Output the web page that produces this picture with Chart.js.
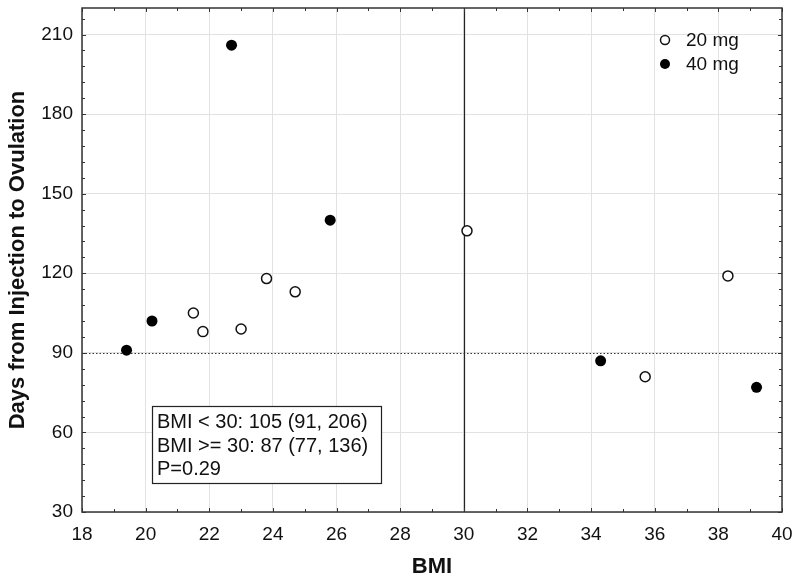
<!DOCTYPE html>
<html>
<head>
<meta charset="utf-8">
<script src="https://cdn.jsdelivr.net/npm/chart.js@4.4.0/dist/chart.umd.min.js"></script>
<style>
  html, body { margin: 0; padding: 0; background: #fff; }
  #wrap { width: 800px; height: 583px; }
</style>
</head>
<body>
<div id="wrap"><canvas id="grafico"></canvas></div>
<script>
// Datos
const bmi20 = [21.5, 21.8, 23.0, 23.8, 24.7, 30.1, 35.7, 38.3];
const dias20 = [105, 98, 99, 118, 113, 136, 81, 119];
const bmi40 = [19.4, 20.2, 22.7, 25.8, 34.3, 39.2];
const dias40 = [91, 102, 206, 140, 87, 77];

const xTicks = [18, 20, 22, 24, 26, 28, 30, 32, 34, 36, 38, 40];
const yTicks = [30, 60, 90, 120, 150, 180, 210];
const xMinor = [19, 21, 23, 25, 27, 29, 31, 33, 35, 37, 39];
const yMinorStep = 6;

const lineaDias = 90;   // linea punteada
const corteBmi = 30;    // linea vertical
const resumen = ['BMI < 30: 105 (91, 206)', 'BMI >= 30: 87 (77, 136)', 'P=0.29'];

const FUENTE = "'Liberation Sans', Arial, sans-serif";

function puntos(xs, ys) {
  return xs.map((x, i) => ({ x: x, y: ys[i] }));
}

// Lineas de referencia, marco y marcas menores
const marcoPlugin = {
  id: 'marco',
  beforeDatasetsDraw(chart) {
    const { ctx, chartArea: a, scales: { x, y } } = chart;
    ctx.save();
    // linea punteada en 90 dias
    ctx.strokeStyle = '#333';
    ctx.lineWidth = 1;
    ctx.setLineDash([1.5, 2]);
    const yp = Math.round(y.getPixelForValue(lineaDias)) + 0.5;
    ctx.beginPath();
    ctx.moveTo(a.left, yp);
    ctx.lineTo(a.right, yp);
    ctx.stroke();
    // linea vertical en BMI 30
    ctx.setLineDash([]);
    ctx.strokeStyle = '#222';
    ctx.lineWidth = 1.2;
    const xp = Math.round(x.getPixelForValue(corteBmi)) + 0.5;
    ctx.beginPath();
    ctx.moveTo(xp, a.top);
    ctx.lineTo(xp, a.bottom);
    ctx.stroke();

    // marcas hacia adentro en los cuatro lados
    ctx.strokeStyle = '#333';
    ctx.lineWidth = 1;
    const marcaX = (v, len) => {
      const p = Math.round(x.getPixelForValue(v)) + 0.5;
      ctx.beginPath();
      ctx.moveTo(p, a.bottom); ctx.lineTo(p, a.bottom - len);
      ctx.moveTo(p, a.top); ctx.lineTo(p, a.top + len);
      ctx.stroke();
    };
    const marcaY = (v, len) => {
      const p = Math.round(y.getPixelForValue(v)) + 0.5;
      ctx.beginPath();
      ctx.moveTo(a.left, p); ctx.lineTo(a.left + len, p);
      ctx.moveTo(a.right, p); ctx.lineTo(a.right - len, p);
      ctx.stroke();
    };
    xTicks.forEach(v => marcaX(v, 4));
    xMinor.forEach(v => marcaX(v, 3));
    for (let v = y.min; v <= y.max; v += yMinorStep) {
      marcaY(v, yTicks.includes(v) ? 4 : 3);
    }

    // marco
    ctx.strokeStyle = '#333';
    ctx.lineWidth = 1.5;
    ctx.strokeRect(a.left, a.top, a.right - a.left, a.bottom - a.top);
    ctx.restore();
  },
  afterDatasetsDraw(chart) {
    const { ctx, chartArea: a } = chart;
    ctx.save();
    // leyenda
    ctx.font = '19px ' + FUENTE;
    ctx.textBaseline = 'middle';
    ctx.fillStyle = '#111';
    chart.data.datasets.forEach((ds, i) => {
      const cy = a.top + 32 + i * 24;
      const cx = a.right - 117;
      ctx.beginPath();
      ctx.arc(cx, cy, i === 0 ? 4.5 : 5, 0, Math.PI * 2);
      if (i === 0) {
        ctx.fillStyle = '#fff';
        ctx.fill();
        ctx.strokeStyle = '#111';
        ctx.lineWidth = 1.5;
        ctx.stroke();
      } else {
        ctx.fillStyle = '#000';
        ctx.fill();
      }
      ctx.fillStyle = '#111';
      ctx.fillText(ds.label, cx + 21, cy + 1);
    });

    // caja con resumen
    ctx.font = '20px ' + FUENTE;
    ctx.textBaseline = 'alphabetic';
    const bx = 152, by = 406, bw = 229, bh = 77;
    ctx.fillStyle = '#fff';
    ctx.fillRect(bx, by, bw, bh);
    ctx.strokeStyle = '#222';
    ctx.lineWidth = 1.2;
    ctx.strokeRect(bx + 0.5, by + 0.5, bw, bh);
    ctx.fillStyle = '#111';
    resumen.forEach((t, i) => {
      ctx.fillText(t, bx + 5, by + 22 + i * 23.5);
    });
    ctx.restore();
  }
};

const ctx = document.getElementById('grafico').getContext('2d');
new Chart(ctx, {
  type: 'scatter',
  data: {
    datasets: [
      {
        label: '20 mg',
        data: puntos(bmi20, dias20),
        pointStyle: 'circle',
        pointRadius: 5,
        backgroundColor: '#fff',
        borderColor: '#111',
        borderWidth: 1.5
      },
      {
        label: '40 mg',
        data: puntos(bmi40, dias40),
        pointStyle: 'circle',
        pointRadius: 5.5,
        backgroundColor: '#000',
        borderColor: '#000',
        borderWidth: 0
      }
    ]
  },
  options: {
    responsive: true,
    maintainAspectRatio: false,
    animation: false,
    layout: { padding: { top: 8, right: 18, left: 0, bottom: 0 } },
    plugins: {
      legend: { display: false },
      tooltip: { enabled: false }
    },
    scales: {
      x: {
        type: 'linear',
        min: 18,
        max: 40,
        afterBuildTicks: s => { s.ticks = xTicks.map(v => ({ value: v })); },
        afterFit: s => { s.height = 71; s.paddingLeft = 0; s.paddingRight = 0; },
        grid: { color: '#e2e2e2', lineWidth: 1, drawTicks: false },
        border: { display: false },
        ticks: {
          padding: 11,
          maxRotation: 0,
          color: '#111',
          font: { family: FUENTE, size: 19 }
        },
        title: {
          display: true,
          text: 'BMI',
          color: '#111',
          font: { family: FUENTE, size: 22, weight: 'bold' },
          padding: { top: 0, bottom: 3 }
        }
      },
      y: {
        type: 'linear',
        min: 30,
        max: 220,
        afterBuildTicks: s => { s.ticks = yTicks.map(v => ({ value: v })); },
        afterFit: s => { s.width = 82; s.paddingTop = 0; s.paddingBottom = 0; },
        grid: { color: '#e2e2e2', lineWidth: 1, drawTicks: false },
        border: { display: false },
        ticks: {
          padding: 9,
          color: '#111',
          font: { family: FUENTE, size: 19 }
        },
        title: {
          display: true,
          text: 'Days from Injection to Ovulation',
          color: '#111',
          font: { family: FUENTE, size: 22, weight: 'bold' },
          padding: { top: 5, bottom: 0 }
        }
      }
    }
  },
  plugins: [marcoPlugin]
});
</script>
</body>
</html>
